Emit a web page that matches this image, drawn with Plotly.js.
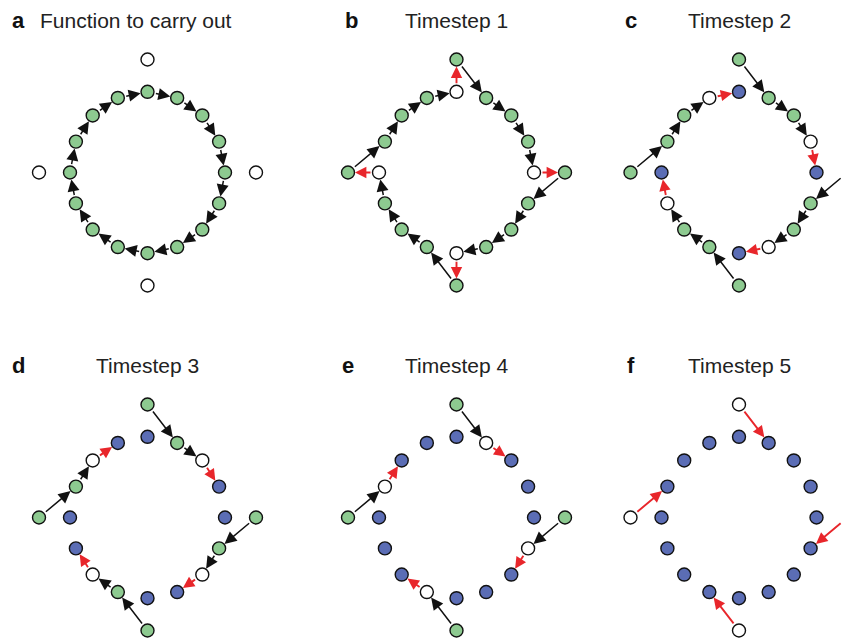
<!DOCTYPE html>
<html>
<head>
<meta charset="utf-8">
<script src="https://cdn.plot.ly/plotly-3.0.1.min.js"></script>
<style>html,body{margin:0;padding:0;background:#fff;}#chart{width:845px;height:642px;}</style>
</head>
<body>
<div id="chart"></div>
<script>
// ---------------- data ----------------
const panelLetters = ['a', 'b', 'c', 'd', 'e', 'f'];
const panelTitles = ['Function to carry out', 'Timestep 1', 'Timestep 2', 'Timestep 3', 'Timestep 4', 'Timestep 5'];

// node ids: ring nodes 0..15 clockwise from top, then outer nodes T, R, B, L
const nodeIds = ['0','1','2','3','4','5','6','7','8','9','10','11','12','13','14','15','T','R','B','L'];

// node states per panel (g = green, w = white/empty, b = blue), same order as nodeIds
const statesA = ['g','g','g','g','g','g','g','g','g','g','g','g','g','g','g','g','w','w','w','w'];
const statesB = ['w','g','g','g','w','g','g','g','w','g','g','g','w','g','g','g','g','g','g','g'];
const statesC = ['b','g','g','w','b','g','g','w','b','g','g','w','b','g','g','w','g','g','g','g'];
const statesD = ['b','g','w','b','b','g','w','b','b','g','w','b','b','g','w','b','g','g','g','g'];
const statesE = ['b','w','b','b','b','w','b','b','b','w','b','b','b','w','b','b','g','g','g','g'];
const statesF = ['b','b','b','b','b','b','b','b','b','b','b','b','b','b','b','b','w','w','w','w'];

// arrows per panel: [from, to, kind]  (k = black, r = red)
const arrowsA = [['0','1','k'],['1','2','k'],['2','3','k'],['3','4','k'],['4','5','k'],['5','6','k'],['6','7','k'],['7','8','k'],
                 ['8','9','k'],['9','10','k'],['10','11','k'],['11','12','k'],['12','13','k'],['13','14','k'],['14','15','k'],['15','0','k']];
const arrowsB = [['0','T','r'],['4','R','r'],['8','B','r'],['12','L','r'],
                 ['T','1','k'],['1','2','k'],['2','3','k'],['3','4','k'],
                 ['R','5','k'],['5','6','k'],['6','7','k'],['7','8','k'],
                 ['B','9','k'],['9','10','k'],['10','11','k'],['11','12','k'],
                 ['L','13','k'],['13','14','k'],['14','15','k'],['15','0','k']];
const arrowsC = [['3','4','r'],['7','8','r'],['11','12','r'],['15','0','r'],
                 ['T','1','k'],['1','2','k'],['2','3','k'],
                 ['R','5','k'],['5','6','k'],['6','7','k'],
                 ['B','9','k'],['9','10','k'],['10','11','k'],
                 ['L','13','k'],['13','14','k'],['14','15','k']];
const arrowsD = [['2','3','r'],['6','7','r'],['10','11','r'],['14','15','r'],
                 ['T','1','k'],['1','2','k'],['R','5','k'],['5','6','k'],
                 ['B','9','k'],['9','10','k'],['L','13','k'],['13','14','k']];
const arrowsE = [['1','2','r'],['5','6','r'],['9','10','r'],['13','14','r'],
                 ['T','1','k'],['R','5','k'],['B','9','k'],['L','13','k']];
const arrowsF = [['T','1','r'],['R','5','r'],['B','9','r'],['L','13','r']];

// ---------------- drawing ----------------
const allStates = [statesA, statesB, statesC, statesD, statesE, statesF];
const allArrows = [arrowsA, arrowsB, arrowsC, arrowsD, arrowsE, arrowsF];

const W = 845, H = 642;
const colX = [147.5, 456.5, 739];
const rowY = [172.5, 517.5];
const SX = 77.5, SY = 80.7, HALF = 1.6, OUTER = 1.4;
const fill = {g: '#8dca90', w: '#ffffff', b: '#5b6db5'};
const arrowColor = {k: '#111111', r: '#e8262b'};
const arrowW = {k: 1.5, r: 1.9};
const arrowS = {k: 1.6, r: 1.2};

function nodePos(id) {
  if (id === 'T') return [0, OUTER];
  if (id === 'B') return [0, -OUTER];
  if (id === 'R') return [OUTER, 0];
  if (id === 'L') return [-OUTER, 0];
  const a = (+id) * Math.PI / 8;
  return [Math.sin(a), Math.cos(a)];
}

const data = [];
const layout = {
  width: W, height: H,
  margin: {l: 0, r: 0, t: 0, b: 0},
  paper_bgcolor: '#ffffff', plot_bgcolor: 'rgba(0,0,0,0)',
  showlegend: false,
  annotations: [],
  font: {family: 'Liberation Sans, Arial, sans-serif', color: '#222222'}
};

for (let k = 0; k < 6; k++) {
  const cx = colX[k % 3], cy = rowY[Math.floor(k / 3)];
  const sfx = k === 0 ? '' : String(k + 1);
  const left = Math.max(0, cx - HALF * SX), right = Math.min(W, cx + HALF * SX);
  const top = Math.max(0, cy - HALF * SY), bottom = Math.min(H, cy + HALF * SY);
  layout['xaxis' + sfx] = {
    domain: [left / W, right / W], range: [(left - cx) / SX, (right - cx) / SX],
    visible: false, showgrid: false, zeroline: false, fixedrange: true, anchor: 'y' + sfx
  };
  layout['yaxis' + sfx] = {
    domain: [1 - bottom / H, 1 - top / H], range: [-(bottom - cy) / SY, (cy - top) / SY],
    visible: false, showgrid: false, zeroline: false, fixedrange: true, anchor: 'x' + sfx
  };
  const xs = [], ys = [], cols = [];
  nodeIds.forEach((id, i) => {
    const p = nodePos(id);
    xs.push(p[0]); ys.push(p[1]); cols.push(fill[allStates[k][i]]);
  });
  data.push({
    type: 'scatter', mode: 'markers', x: xs, y: ys,
    xaxis: 'x' + sfx, yaxis: 'y' + sfx, cliponaxis: false, hoverinfo: 'skip',
    marker: {size: 13, color: cols, line: {color: '#111111', width: 1.4}}
  });
  allArrows[k].forEach(([from, to, kind]) => {
    const a = nodePos(from), b = nodePos(to);
    layout.annotations.push({
      xref: 'x' + sfx, yref: 'y' + sfx, axref: 'x' + sfx, ayref: 'y' + sfx,
      x: b[0], y: b[1], ax: a[0], ay: a[1], text: '',
      showarrow: true, arrowhead: 2, arrowsize: arrowS[kind], arrowwidth: arrowW[kind],
      arrowcolor: arrowColor[kind], standoff: 7, startstandoff: 7
    });
  });
  // panel letter
  const letterX = [10, 343, 623, 10, 340, 625][k];
  const titleY = cy - 151.5;
  layout.annotations.push({
    xref: 'paper', yref: 'paper', x: letterX / W, y: 1 - titleY / H,
    xanchor: 'left', yanchor: 'middle', showarrow: false,
    text: '<b>' + panelLetters[k] + '</b>',
    font: {size: 22, color: '#111111', family: 'Liberation Sans, Arial, sans-serif'}
  });
  // panel title
  layout.annotations.push({
    xref: 'paper', yref: 'paper',
    x: (k === 0 ? 38 : cx) / W, y: 1 - titleY / H,
    xanchor: k === 0 ? 'left' : 'center', yanchor: 'middle', showarrow: false,
    text: panelTitles[k],
    font: {size: 21, color: '#222222', family: 'Liberation Sans, Arial, sans-serif'}
  });
}

Plotly.newPlot('chart', data, layout, {staticPlot: true, displayModeBar: false});
</script>
</body>
</html>
